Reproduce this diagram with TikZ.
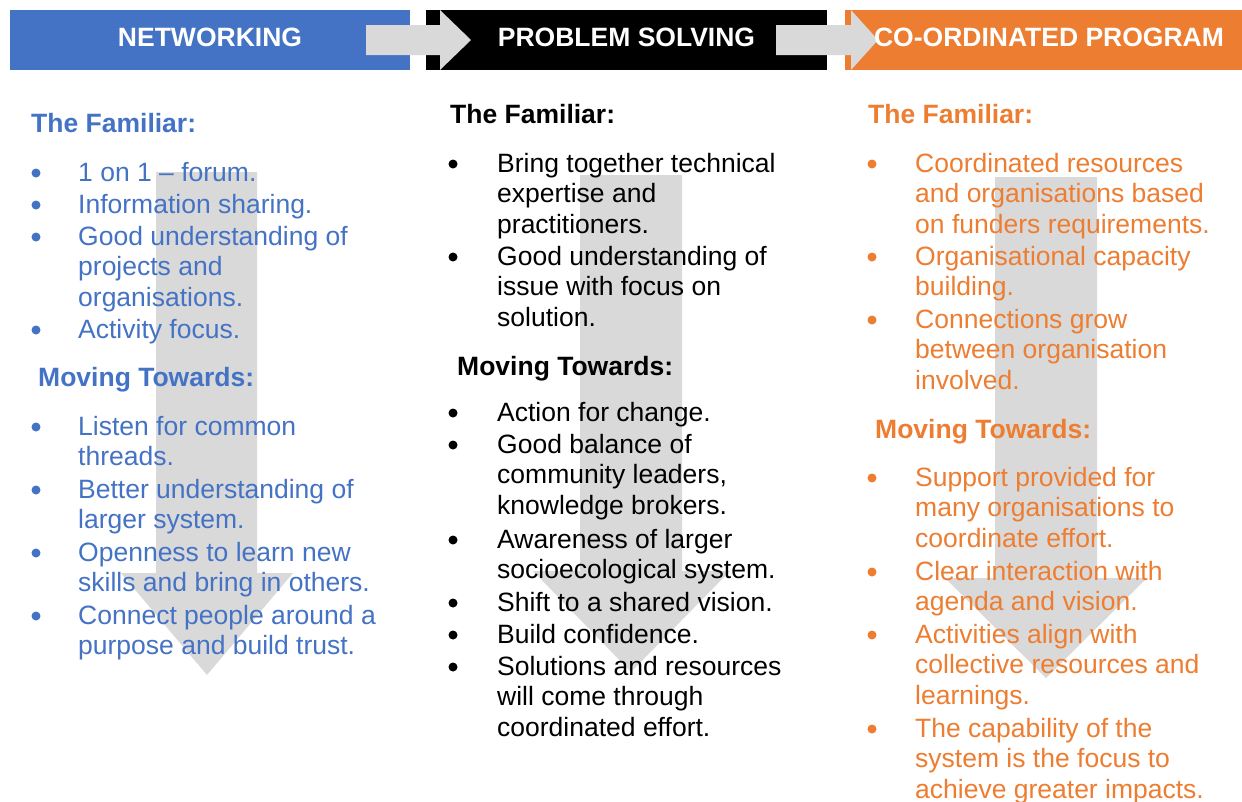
\documentclass[tikz,border=0pt]{standalone}
\usepackage{fontspec}
\setmainfont{Liberation Sans}
\definecolor{nblue}{HTML}{4472C4}
\definecolor{norange}{HTML}{ED7D31}
\definecolor{ngray}{HTML}{D9D9D9}
\newcommand\stk[1]{\vtop{\baselineskip=30.8pt\lineskiplimit=-100pt\halign{##\hfil\cr#1\crcr}}}
\newcommand\bodyfont{\fontsize{26.5}{30.8}\selectfont}
\begin{document}
\begin{tikzpicture}[x=1pt,y=-1pt,
  txt/.style={anchor=base west, inner sep=0pt, font=\bodyfont},
  hd/.style={txt, font=\bodyfont\bfseries},
  bdot/.style={circle, inner sep=0pt, minimum size=9pt, draw=none},
  bar/.style={anchor=north west, inner sep=0pt, minimum height=60pt, draw=none},
  htxt/.style={anchor=base, inner sep=0pt, font=\bodyfont\bfseries, text=white},
  garrow/.style={fill=ngray, draw=none}]
\useasboundingbox (0,0) rectangle (1242,801);
\fill[white] (0,0) rectangle (1242,801);
% header bars
\node[bar, fill=nblue, minimum width=400pt] (hb1) at (10,10) {};
\node[bar, fill=black, minimum width=401pt] (hb2) at (426,10) {};
\node[bar, fill=norange, minimum width=397pt] (hb3) at (845,10) {};
% header block arrows
\fill[garrow] (366,25) -- (440,25) -- (440,10) -- (471,40) -- (440,70) -- (440,55) -- (366,55) -- cycle;
\fill[garrow] (776,25) -- (851,25) -- (851,10) -- (878,40) -- (851,70) -- (851,55) -- (776,55) -- cycle;
% down arrows
\fill[garrow] (156,172) -- (257,172) -- (257,573) -- (293,573) -- (207,675) -- (121,573) -- (156,573) -- cycle;
\fill[garrow] (580,175) -- (682,175) -- (682,571) -- (730,571) -- (631,672) -- (533,571) -- (580,571) -- cycle;
\fill[garrow] (995,177) -- (1097,177) -- (1097,578) -- (1147,578) -- (1046,678) -- (945,578) -- (995,578) -- cycle;
% header texts
\node[htxt] (t1) at (210,46) {NETWORKING};
\node[htxt] (t2) at (626.5,46) {PROBLEM SOLVING};
\node[htxt] (t3) at (1049,46) {CO-ORDINATED PROGRAM};
% column 1
\begin{scope}[every node/.append style={text=nblue}]
\node[hd] (c1h1) at (31,132) {The Familiar:};
\foreach \y [count=\i] in {181,213,245,338} \node[bdot, fill=nblue] (c1b\i) at (36,\y-8) {};
\node[txt] (c1i1) at (78,181) {1 on 1 – forum.};
\node[txt] (c1i2) at (78,213) {Information sharing.};
\node[txt] (c1i3) at (78,245) {\stk{Good understanding of\cr projects and\cr organisations.}};
\node[txt] (c1i4) at (78,338) {Activity focus.};
\node[hd] (c1h2) at (38,386) {Moving Towards:};
\foreach \y [count=\i] in {435,498,561,624} \node[bdot, fill=nblue] (c1c\i) at (36,\y-8) {};
\node[txt] (c1j1) at (78,435) {\stk{Listen for common\cr threads.}};
\node[txt] (c1j2) at (78,498) {\stk{Better understanding of\cr larger system.}};
\node[txt] (c1j3) at (78,561) {\stk{Openness to learn new\cr skills and bring in others.}};
\node[txt] (c1j4) at (78,624) {\stk{Connect people around a\cr purpose and build trust.}};
\end{scope}
% column 2
\begin{scope}[every node/.append style={text=black}]
\node[hd] (c2h1) at (450,123) {The Familiar:};
\foreach \y [count=\i] in {172,265} \node[bdot, fill=black] (c2b\i) at (453,\y-8) {};
\node[txt] (c2i1) at (497,172) {\stk{Bring together technical\cr expertise and\cr practitioners.}};
\node[txt] (c2i2) at (497,265) {\stk{Good understanding of\cr issue with focus on\cr solution.}};
\node[hd] (c2h2) at (457,375) {Moving Towards:};
\foreach \y [count=\i] in {421,453,548,611,643,675} \node[bdot, fill=black] (c2c\i) at (453,\y-8) {};
\node[txt] (c2j1) at (497,421) {Action for change.};
\node[txt] (c2j2) at (497,453) {\stk{Good balance of\cr community leaders,\cr knowledge brokers.}};
\node[txt] (c2j3) at (497,548) {\stk{Awareness of larger\cr socioecological system.}};
\node[txt] (c2j4) at (497,611) {Shift to a shared vision.};
\node[txt] (c2j5) at (497,643) {Build confidence.};
\node[txt] (c2j6) at (497,675) {\stk{Solutions and resources\cr will come through\cr coordinated effort.}};
\end{scope}
% column 3
\begin{scope}[every node/.append style={text=norange}]
\node[hd] (c3h1) at (868,123) {The Familiar:};
\foreach \y [count=\i] in {172,265,328} \node[bdot, fill=norange] (c3b\i) at (872,\y-8) {};
\node[txt] (c3i1) at (915,172) {\stk{Coordinated resources\cr and organisations based\cr on funders requirements.}};
\node[txt] (c3i2) at (915,265) {\stk{Organisational capacity\cr building.}};
\node[txt] (c3i3) at (915,328) {\stk{Connections grow\cr between organisation\cr involved.}};
\node[hd] (c3h2) at (875,438) {Moving Towards:};
\foreach \y [count=\i] in {486,580,643,737} \node[bdot, fill=norange] (c3c\i) at (872,\y-8) {};
\node[txt] (c3j1) at (915,486) {\stk{Support provided for\cr many organisations to\cr coordinate effort.}};
\node[txt] (c3j2) at (915,580) {\stk{Clear interaction with\cr agenda and vision.}};
\node[txt] (c3j3) at (915,643) {\stk{Activities align with\cr collective resources and\cr learnings.}};
\node[txt] (c3j4) at (915,737) {\stk{The capability of the\cr system is the focus to\cr achieve greater impacts.}};
\end{scope}
\end{tikzpicture}
\end{document}
